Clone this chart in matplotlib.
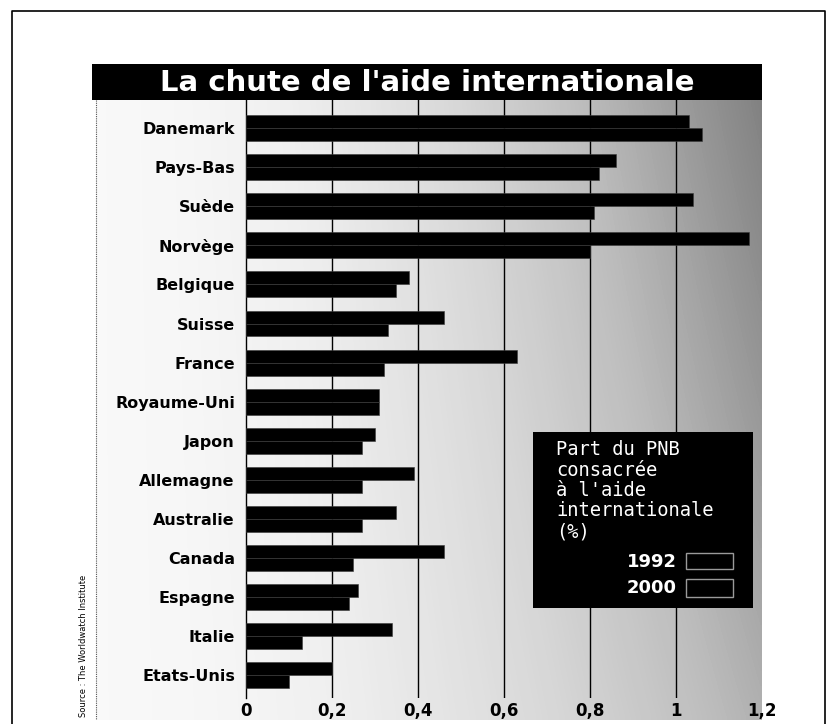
import numpy as np
import matplotlib
matplotlib.use("Agg")
import matplotlib.pyplot as plt
from matplotlib.patches import Rectangle

# ---- data -------------------------------------------------------------
countries = ["Danemark", "Pays-Bas", "Suède", "Norvège", "Belgique", "Suisse",
             "France", "Royaume-Uni", "Japon", "Allemagne", "Australie",
             "Canada", "Espagne", "Italie", "Etats-Unis"]
aid_1992 = [1.03, 0.86, 1.04, 1.17, 0.38, 0.46, 0.63, 0.31, 0.30, 0.39,
            0.35, 0.46, 0.26, 0.34, 0.20]
aid_2000 = [1.06, 0.82, 0.81, 0.80, 0.35, 0.33, 0.32, 0.31, 0.27, 0.27,
            0.27, 0.25, 0.24, 0.13, 0.10]
xticks = [0, 0.2, 0.4, 0.6, 0.8, 1.0, 1.2]
xtick_labels = ["0", "0,2", "0,4", "0,6", "0,8", "1", "1,2"]
title = "La chute de l'aide internationale"
legend_title = "Part du PNB\nconsacrée\nà l'aide\ninternationale\n(%)"
years = ["1992", "2000"]
source = "Source : The Worldwatch Institute"

W, H = 828, 724
fig = plt.figure(figsize=(W / 100, H / 100), dpi=100)
fig.patch.set_facecolor("white")

def fx(px):
    return px / W

def fy(py):
    return 1 - py / H

# ---- stippled background ---------------------------------------------
bg = fig.add_axes([fx(96), fy(720), fx(762) - fx(96), (720 - 100) / H], zorder=0)
t = np.linspace(0, 1, 200)[None, :]
r = np.linspace(0, 1, 120)[:, None]
grad = 0.05 + 0.52 * t ** 1.5 * (1 - 0.3 * r)
bg.imshow(grad, cmap="Greys", vmin=0, vmax=1, aspect="auto",
          extent=[0, 1, 0, 1], interpolation="bilinear")
bg.axis("off")

# ---- main bar axes ----------------------------------------------------
y0, step = 128, 39.1
ax = fig.add_axes([fx(246), fy(698), fx(762) - fx(246), 598 / H], zorder=2)
ax.set_facecolor("none")
n = len(countries)
ypos = np.arange(n)
bh = 0.33
ax.barh(ypos - bh / 2, aid_1992, height=bh, color="black",
        edgecolor="#3a3a3a", linewidth=0.4, zorder=3)
ax.barh(ypos + bh / 2, aid_2000, height=bh, color="black",
        edgecolor="#3a3a3a", linewidth=0.4, zorder=3)
ax.set_xlim(0, 1.2)
ax.set_ylim((698 - y0) / step, -(y0 - 100) / step)
for g in xticks[1:-1]:
    ax.axvline(g, color="black", lw=1.0, zorder=1)
ax.set_yticks(ypos)
ax.set_yticklabels(countries, fontsize=11.5, fontweight="heavy")
ax.tick_params(axis="y", length=0, pad=8)
ax.set_xticks(xticks)
ax.set_xticklabels(xtick_labels, fontsize=12, fontweight="bold")
ax.tick_params(axis="x", length=0, pad=3)
for s in ["top", "right", "bottom"]:
    ax.spines[s].set_visible(False)
ax.spines["left"].set_color("black")
ax.spines["left"].set_linewidth(1.0)

# ---- overlay (frame, title bar, legend box) ---------------------------
ov = fig.add_axes([0, 0, 1, 1], zorder=5)
ov.set_xlim(0, W)
ov.set_ylim(H, 0)
ov.axis("off")
ov.set_facecolor("none")
# outer frame
ov.plot([12, 12, 825, 825], [H, 11, 11, H], color="black", lw=1.2)
# left edge of stipple area
ov.plot([96, 96], [100, 720], color="#555555", lw=0.8, ls=(0, (1, 1)))
# title bar
ov.add_patch(Rectangle((92, 64), 670, 36, facecolor="black", edgecolor="none"))
ov.text(427, 83, title, color="white", fontsize=21, fontweight="heavy",
        ha="center", va="center")
# legend box
ov.add_patch(Rectangle((533, 432), 220, 176, facecolor="black", edgecolor="none"))
ov.text(556, 440, legend_title, color="white", fontsize=13.5,
        family="DejaVu Sans Mono", ha="left", va="top", linespacing=1.1)
ov.text(677, 562, years[0], color="white", fontsize=13, fontweight="bold",
        ha="right", va="center")
ov.text(677, 588, years[1], color="white", fontsize=13, fontweight="bold",
        ha="right", va="center")
ov.add_patch(Rectangle((686, 553), 47, 16, facecolor="black",
                       edgecolor="#9a9a9a", lw=1.0))
ov.add_patch(Rectangle((686, 579), 47, 18, facecolor="black",
                       edgecolor="#9a9a9a", lw=1.0))
# source
ov.text(84, 717, source, rotation=90, fontsize=6, ha="center", va="bottom",
        color="black")

fig.savefig("out.png", dpi=100)
